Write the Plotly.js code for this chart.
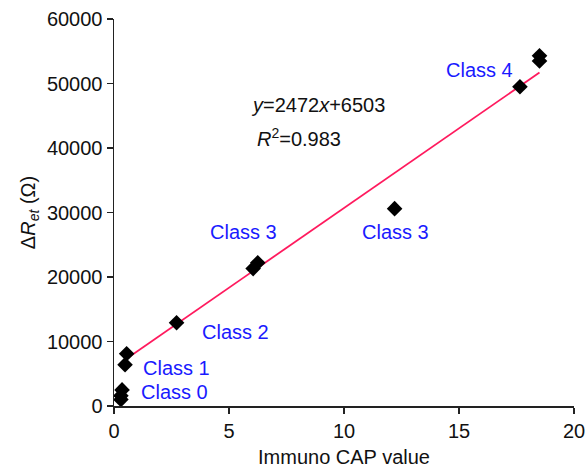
<!DOCTYPE html>
<html><head><meta charset="utf-8">
<script src="https://cdn.plot.ly/plotly-3.0.1.min.js"></script>
<style>html,body{margin:0;padding:0;background:#fff}#c{width:588px;height:470px}</style>
</head><body><div id="c"></div>
<script>
// Data points (Immuno CAP value, ΔRet in Ω)
const capValues = [0.35, 0.3, 0.3, 0.55, 0.48, 2.72, 6.05, 6.25, 12.2, 17.65, 18.5, 18.5];
const deltaRet  = [2500, 1600, 1000, 8100, 6400, 12900, 21300, 22200, 30600, 49500, 54300, 53500];
// Regression line endpoints (y = 2472x + 6503)
const fitX = [0.45, 18.5];
const fitY = [7100, 51700];
// Class labels
const classLabels = ["Class 0", "Class 1", "Class 2", "Class 3", "Class 3", "Class 4"];
const classX = [2.65, 2.7, 5.3, 5.65, 12.26, 15.9];
const classY = [2150, 5900, 11450, 26950, 26950, 52100];
const xTicks = [0, 5, 10, 15, 20];
const yTicks = [0, 10000, 20000, 30000, 40000, 50000, 60000];

const traces = [
  {x: fitX, y: fitY, mode: 'lines', line: {color: '#ff1a5e', width: 1.8}, hoverinfo: 'skip'},
  {x: capValues, y: deltaRet, mode: 'markers', marker: {symbol: 'diamond', size: 12, color: '#000'}}
];

const font = {family: 'Liberation Sans, Arial, sans-serif', size: 20, color: '#111'};
const annotations = classLabels.map((t, i) => ({
  x: classX[i], y: classY[i], text: t, showarrow: false,
  font: {family: font.family, size: 20, color: '#1a1aff'}, xanchor: 'center', yanchor: 'middle'
}));
annotations.push({x: 5.85, y: 46700, text: '<i>y</i>=2472<i>x</i>+6503', showarrow: false, font: font, xanchor: 'left', yanchor: 'middle'});
annotations.push({x: 6.15, y: 41700, text: '<i>R</i><sup>2</sup>=0.983', showarrow: false, font: font, xanchor: 'left', yanchor: 'middle'});

const layout = {
  width: 588, height: 470,
  margin: {l: 114, r: 14, t: 19, b: 64},
  paper_bgcolor: '#fff', plot_bgcolor: '#fff',
  showlegend: false,
  font: font,
  xaxis: {
    range: [0, 20], tickvals: xTicks, ticktext: xTicks.map(String),
    showgrid: false, zeroline: false, showline: true, linecolor: '#222', linewidth: 1.5,
    ticks: 'outside', ticklen: 6, tickcolor: '#222', tickwidth: 1.5,
    title: {text: 'Immuno CAP value', font: font, standoff: 9}
  },
  yaxis: {
    range: [0, 60000], tickvals: yTicks, ticktext: yTicks.map(String),
    showgrid: false, zeroline: false, showline: true, linecolor: '#222', linewidth: 1.5,
    ticks: 'outside', ticklen: 6, tickcolor: '#222', tickwidth: 1.5,
    title: {text: 'Δ<i>R</i><sub><i>et</i></sub> (Ω)', font: font, standoff: 6}
  },
  annotations: annotations
};
Plotly.newPlot('c', traces, layout, {displayModeBar: false, staticPlot: true});
</script></body></html>
